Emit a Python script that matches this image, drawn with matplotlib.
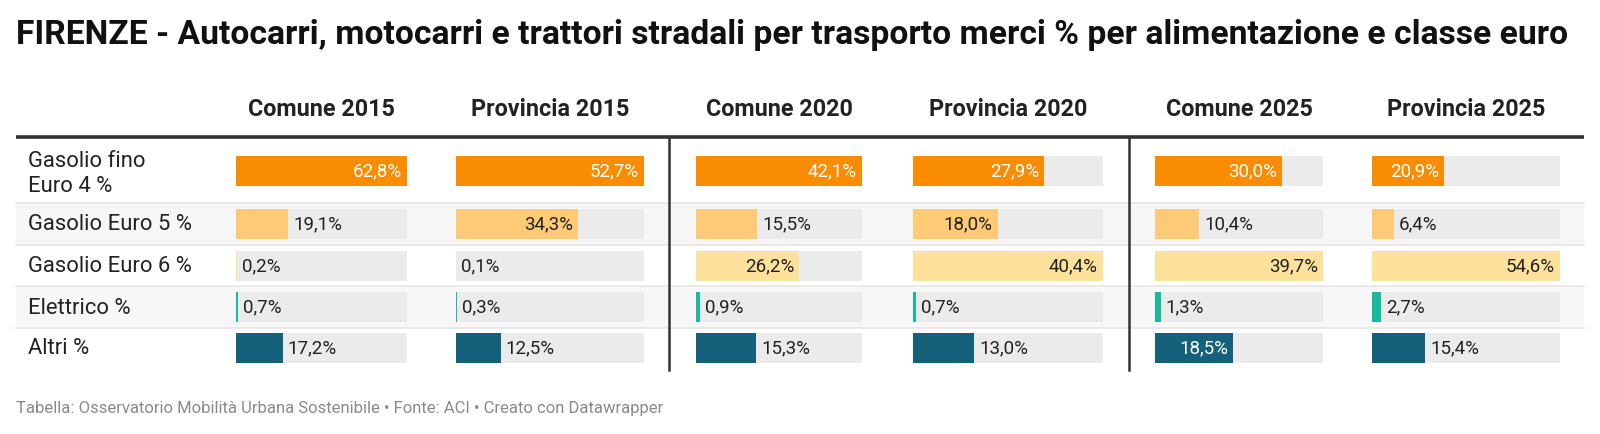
import matplotlib.pyplot as plt

plt.rcParams['font.family'] = ['Roboto', 'DejaVu Sans']

# data
title = "FIRENZE - Autocarri, motocarri e trattori stradali per trasporto merci % per alimentazione e classe euro"
columns = ["Comune 2015", "Provincia 2015", "Comune 2020", "Provincia 2020", "Comune 2025", "Provincia 2025"]
rows = ["Gasolio fino\nEuro 4 %", "Gasolio Euro 5 %", "Gasolio Euro 6 %", "Elettrico %", "Altri %"]
gasolio_e4 = [62.8, 52.7, 42.1, 27.9, 30.0, 20.9]
gasolio_e5 = [19.1, 34.3, 15.5, 18.0, 10.4, 6.4]
gasolio_e6 = [0.2, 0.1, 26.2, 40.4, 39.7, 54.6]
elettrico = [0.7, 0.3, 0.9, 0.7, 1.3, 2.7]
altri = [17.2, 12.5, 15.3, 13.0, 18.5, 15.4]
footer = "Tabella: Osservatorio Mobilità Urbana Sostenibile • Fonte: ACI • Creato con Datawrapper"

series = [gasolio_e4, gasolio_e5, gasolio_e6, elettrico, altri]
colors = ["#f98c00", "#ffca76", "#fee29c", "#15bb9c", "#15607a"]
inside_txt = ["white", "#222222", "#222222", "#222222", "white"]

# layout in pixels
W, H = 1600, 434
col_x = [(236, 407), (456, 644), (696, 862), (913, 1103), (1155, 1323), (1372, 1560)]
row_y = [171, 224, 266, 307, 348]
band_y = [(138, 203), (203, 245), (245, 286), (286, 328), (328, 370)]
bar_h = 30
px = 100 / 72  # pixels per point

fig = plt.figure(figsize=(16, 4.34), dpi=100)
bg = fig.add_axes([0, 0, 1, 1])
bg.set_xlim(0, W)
bg.set_ylim(H, 0)
bg.axis('off')

fig.text(16 / W, 1 - 35 / H, title, fontsize=24.2, fontweight='bold', color='#111111', va='center', ha='left')

# striped rows
for i, (y0, y1) in enumerate(band_y):
    if i % 2 == 1:
        bg.fill_between([16, 1584], y0, y1, color='#f7f7f7', lw=0, zorder=0)
    if i > 0:
        bg.plot([16, 1584], [y0, y0], color='#e6e6e6', lw=1.2, zorder=1)

bg.plot([16, 1584], [137, 137], color='#333333', lw=2.6, zorder=2, solid_capstyle='butt')
for xv in [669, 1129]:
    bg.plot([xv, xv], [138, 370], color='#333333', lw=1.8, zorder=2)

for i, lab in enumerate(rows):
    bg.text(28, row_y[i] + (3 if i == 0 else 1), lab, fontsize=15.8, color='#222222',
            va='center', ha='left', linespacing=1.3)

for j, name in enumerate(columns):
    x0, x1 = col_x[j]
    bg.text((x0 + x1) / 2, 110, name, fontsize=16.8, fontweight='bold', color='#222222', ha='center', va='center')

    vals = [s[j] for s in series]
    vmax = max(vals)
    ax = fig.add_axes([x0 / W, 1 - 370 / H, (x1 - x0) / W, (370 - 138) / H])
    ax.set_xlim(0, vmax)
    ax.set_ylim(370, 138)
    ax.axis('off')
    ax.patch.set_alpha(0)
    ax.barh(row_y, [vmax] * len(vals), height=bar_h, color='#ebebeb', lw=0)
    ax.barh(row_y, vals, height=bar_h, color=colors, lw=0)
    for i, v in enumerate(vals):
        lab = f"{v:.1f}%".replace('.', ',')
        wpx = v / vmax * (x1 - x0)
        if wpx > 66:
            ax.annotate(lab, (v, row_y[i]), xytext=(-5 / px, 0), textcoords='offset points',
                        ha='right', va='center', fontsize=13.5, color=inside_txt[i])
        else:
            ax.annotate(lab, (v, row_y[i]), xytext=(5 / px, 0), textcoords='offset points',
                        ha='left', va='center', fontsize=13.5, color='#222222')

fig.text(16 / W, 1 - 408 / H, footer, fontsize=12, color='#8a8a8a', va='center', ha='left')

fig.savefig('out.png', dpi=100)
